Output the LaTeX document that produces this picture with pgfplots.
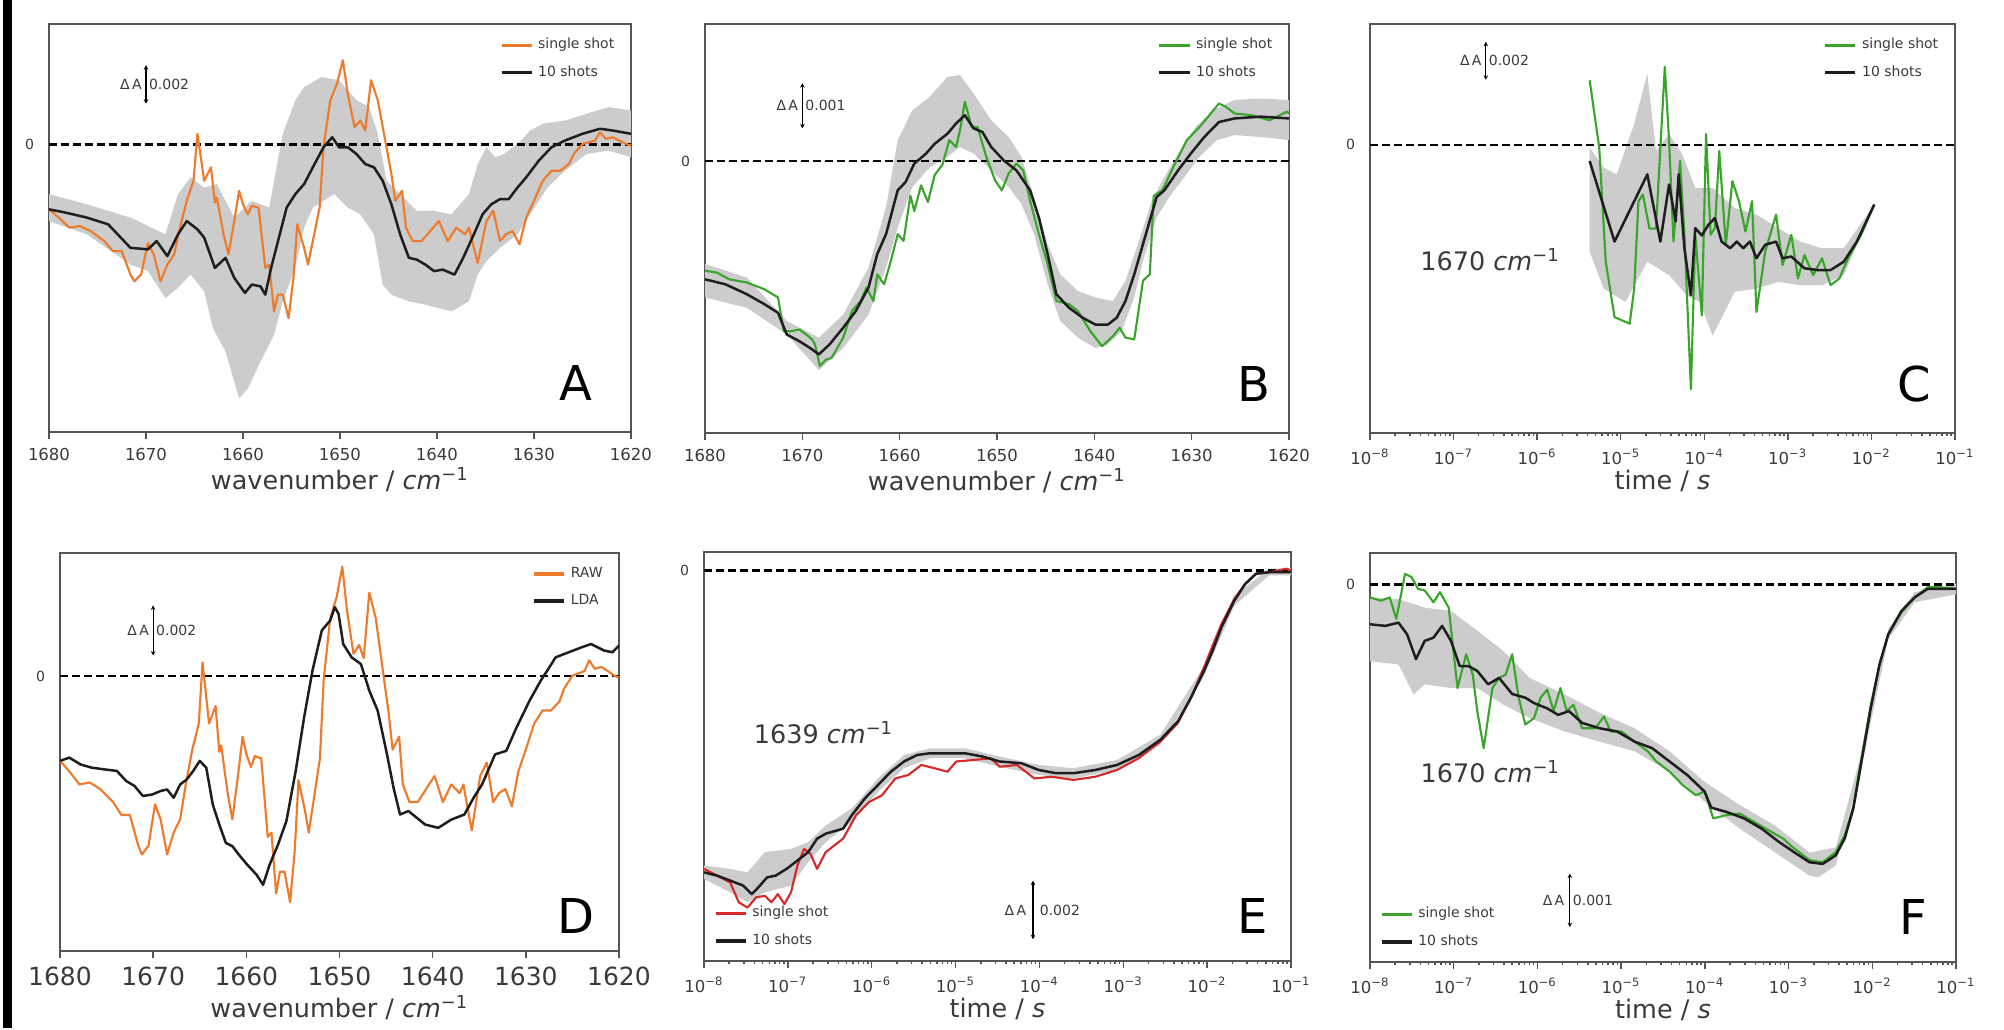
\documentclass[border=0pt]{standalone}
\usepackage{fontspec}
\setmainfont{DejaVu Sans}
\usepackage{pgfplots}
\pgfplotsset{compat=1.18}
\usepgfplotslibrary{fillbetween}
\usetikzlibrary{arrows.meta}

\definecolor{shotorange}{HTML}{EE7A2C}
\definecolor{shotgreen}{HTML}{3AA52B}
\definecolor{shotred}{HTML}{D42A2A}
\definecolor{avgblack}{HTML}{1E1E1E}
\definecolor{bandgray}{HTML}{CCCCCC}
\definecolor{framegray}{HTML}{555555}
\definecolor{labelgray}{HTML}{3A3A3A}

\newcommand\tickfont{\fontsize{6.6}{7.6}\selectfont}
\newcommand\bigtickfont{\fontsize{10}{11.5}\selectfont}
\newcommand\labfont{\fontsize{10.2}{12}\selectfont}
\newcommand\tinyfont{\fontsize{5.6}{6.4}\selectfont}
\newcommand\letterfont{\fontsize{19.2}{22}\selectfont}
\newcommand\wnlabel{wavenumber / \textit{cm}\textsuperscript{−1}}
\newcommand\dA{Δ\,A}

\tikzset{
  zero/.style={black, line width=0.9pt, dash pattern=on 3.2pt off 1.6pt},
  sbar/.style={black, line width=0.45pt, {Stealth[length=1.8pt,width=1.8pt]}-{Stealth[length=1.8pt,width=1.8pt]}},
  avg/.style={avgblack, line width=1pt},
  single/.style={#1, line width=0.85pt},
}

\pgfplotsset{
  panel/.style={
    scale only axis,
    axis line style={framegray, line width=0.8pt},
    tick style={framegray, line width=0.6pt},
    xtick pos=bottom, ytick pos=left,
    tick align=outside,
    major tick length=2.8pt, minor tick length=1.2pt,
    ytick={0}, ytick style={draw=none},
    yticklabel style={font=\tinyfont, text=labelgray, inner sep=0pt, xshift=-3pt},
    xticklabel style={font=\tickfont, text=labelgray},
    /pgf/number format/1000 sep={},
    /pgf/number format/assume math mode=true,
    xlabel style={font=\labfont, text=labelgray, at={(axis description cs:0.5,0)}, anchor=center, yshift=-19.2pt},
    legend style={draw=none, fill=none, font=\tinyfont, text=labelgray, row sep=1.2pt, inner sep=1pt},
    legend cell align=left,
    legend image code/.code={\draw[##1, line width=1.3pt] (0pt,0pt) -- (12pt,0pt);},
    every axis plot/.append style={line join=round},
  },
  wavenum/.style={panel, x dir=reverse, xmin=1620, xmax=1680,
    xtick={1620,1630,...,1680}, xlabel={\wnlabel}},
  logtime/.style={panel, xmin=1e-8, xmax=1e-1,
    xtick={1e-8,1e-7,1e-6,1e-5,1e-4,1e-3,1e-2,1e-1},
    xticklabels={10\textsuperscript{−8},10\textsuperscript{−7},10\textsuperscript{−6},10\textsuperscript{−5},10\textsuperscript{−4},10\textsuperscript{−3},10\textsuperscript{−2},10\textsuperscript{−1}},
    xlabel={time / \textit{s}}},
  toplegend/.style={legend style={at={(rel axis cs:0.985,0.985)}, anchor=north east}},
  botlegend/.style={legend style={at={(rel axis cs:0.012,0.012)}, anchor=south west}},
}

% A and D share the single-shot spectrum
\newcommand\rawspectrum{(1680.0,-3.36)(1679.0,-3.79)(1677.9,-4.31)(1676.8,-4.23)(1675.7,-4.49)(1674.3,-5.01)(1673.4,-5.53)(1672.5,-5.53)(1671.6,-6.75)(1671.2,-7.10)(1670.5,-6.75)(1669.8,-5.10)(1669.2,-5.70)(1668.5,-7.10)(1667.8,-6.23)(1667.1,-5.70)(1666.5,-4.31)(1665.8,-2.92)(1665.1,-1.88)(1664.7,0.56)(1664.0,-1.88)(1663.3,-1.18)(1662.9,-3.01)(1662.7,-2.75)(1662.0,-4.66)(1661.5,-5.70)(1660.9,-3.97)(1660.4,-2.40)(1660.0,-3.10)(1659.5,-3.62)(1659.1,-3.18)(1658.4,-3.27)(1657.7,-6.40)(1657.3,-6.23)(1656.8,-8.66)(1656.4,-7.79)(1655.9,-7.79)(1655.3,-9.01)(1654.8,-6.92)(1654.4,-4.14)(1653.7,-5.36)(1653.3,-6.23)(1652.8,-5.01)(1652.1,-3.27)(1651.7,-0.14)(1651.0,2.30)(1650.3,3.17)(1649.7,4.38)(1649.2,2.64)(1648.5,0.90)(1647.9,1.25)(1647.4,0.73)(1646.8,3.34)(1646.1,2.30)(1645.4,0.38)(1644.7,-1.53)(1644.3,-2.92)(1643.6,-2.40)(1643.2,-4.31)(1642.5,-5.01)(1641.6,-5.01)(1640.7,-4.49)(1639.8,-3.97)(1638.9,-5.01)(1638.0,-4.31)(1637.1,-4.66)(1636.7,-4.31)(1636.2,-5.36)(1635.8,-6.14)(1634.9,-3.97)(1634.2,-3.44)(1633.5,-5.01)(1632.9,-4.66)(1632.2,-4.49)(1631.5,-5.18)(1630.8,-3.79)(1630.0,-2.92)(1629.1,-1.88)(1628.2,-1.36)(1627.3,-1.36)(1626.4,-1.01)(1625.9,-0.49)(1625.0,0.03)(1623.7,0.21)(1623.2,0.64)(1622.6,0.30)(1621.9,0.38)(1621.2,0.21)(1620.5,0.03)(1620.0,-0.05)}

\begin{document}
\begin{tikzpicture}
\path (0,0) rectangle (801.6pt,411.2pt);
\fill[black] (1.2pt,0) rectangle (4.8pt,411.2pt);

% ---------------- A ----------------
\begin{axis}[wavenum, toplegend, at={(19.6pt,238.4pt)}, anchor=south west,
  width=232.8pt, height=163.2pt, ymin=-14.92, ymax=6.26]
\addplot[name path=aup, draw=none, forget plot] coordinates {(1680.0,-2.57)(1676.1,-3.10)(1671.6,-3.79)(1668.0,-4.66)(1666.7,-2.57)(1665.4,-1.70)(1664.0,-2.23)(1662.7,-2.05)(1660.9,-3.79)(1659.1,-2.92)(1657.3,-3.27)(1655.9,0.56)(1655.5,1.08)(1654.6,2.30)(1653.7,2.99)(1651.9,3.51)(1650.1,3.34)(1648.3,2.30)(1647.0,1.95)(1646.1,0.56)(1645.2,-1.88)(1643.8,-2.57)(1642.1,-3.44)(1640.3,-3.44)(1638.5,-3.62)(1636.7,-2.57)(1635.8,-1.01)(1634.9,-0.14)(1634.0,-0.66)(1633.1,-0.49)(1631.3,0.21)(1630.4,0.73)(1629.1,1.08)(1626.8,1.25)(1624.6,1.60)(1622.3,1.95)(1620.0,1.77)};
\addplot[name path=alo, draw=none, forget plot] coordinates {(1680.0,-3.97)(1676.1,-4.66)(1671.6,-6.23)(1669.8,-6.57)(1668.0,-7.97)(1666.7,-7.44)(1665.4,-6.75)(1664.0,-7.62)(1663.1,-9.53)(1661.8,-10.75)(1660.4,-13.18)(1659.5,-12.66)(1658.2,-11.27)(1656.8,-9.88)(1655.9,-8.14)(1654.6,-6.40)(1653.7,-4.31)(1652.8,-3.27)(1651.7,-2.92)(1650.6,-2.57)(1649.2,-3.27)(1647.9,-3.62)(1646.5,-4.66)(1645.6,-7.27)(1644.7,-7.79)(1642.9,-8.14)(1641.2,-8.31)(1638.5,-8.66)(1636.7,-8.14)(1635.8,-6.75)(1634.9,-6.05)(1633.5,-5.36)(1631.7,-4.66)(1630.4,-3.62)(1628.6,-2.23)(1626.8,-1.36)(1624.6,-0.49)(1622.3,-0.31)(1620.0,-0.66)};
\addplot[bandgray, forget plot] fill between[of=aup and alo];
\draw[zero] (axis cs:1680,0) -- (axis cs:1620,0);
\addplot[single=shotorange] coordinates {\rawspectrum};
\addlegendentry{single shot}
\addplot[avg] coordinates {(1680.0,-3.36)(1678.3,-3.53)(1676.1,-3.79)(1673.9,-4.14)(1671.6,-5.36)(1669.8,-5.44)(1668.9,-5.01)(1667.8,-5.79)(1666.7,-4.66)(1665.8,-3.97)(1664.7,-4.40)(1664.0,-4.83)(1662.9,-6.40)(1661.8,-5.88)(1660.9,-6.92)(1659.8,-7.70)(1659.1,-7.27)(1658.2,-7.36)(1657.7,-7.79)(1657.1,-6.40)(1655.5,-3.27)(1654.6,-2.57)(1653.7,-2.05)(1652.8,-1.18)(1651.7,-0.14)(1650.8,0.38)(1650.1,-0.14)(1649.2,-0.14)(1648.3,-0.49)(1647.4,-1.01)(1646.5,-1.18)(1645.6,-1.88)(1644.7,-3.10)(1643.8,-4.66)(1642.9,-5.88)(1642.1,-5.97)(1641.2,-6.23)(1640.3,-6.57)(1639.4,-6.49)(1638.2,-6.75)(1637.3,-5.88)(1636.2,-4.66)(1635.3,-3.62)(1634.4,-3.10)(1633.5,-2.83)(1632.6,-2.83)(1631.7,-2.23)(1630.8,-1.70)(1629.5,-0.83)(1628.2,-0.14)(1626.8,0.21)(1625.0,0.56)(1623.2,0.82)(1621.9,0.73)(1620.0,0.56)};
\addlegendentry{10 shots}
\draw[sbar] (axis cs:1670,2.12) -- (axis cs:1670,4.12)
  node[midway, left, font=\tinyfont, text=labelgray, inner sep=1.5pt] {\dA}
  node[midway, right, font=\tinyfont, text=labelgray, inner sep=1pt] {0.002};
\node[font=\letterfont] at (rel axis cs:0.905,0.12) {A};
\end{axis}

% ---------------- B ----------------
\begin{axis}[wavenum, toplegend, at={(282pt,238pt)}, anchor=south west,
  width=233.6pt, height=163.6pt, ymin=-6.01, ymax=3.04]
\addplot[name path=bup, draw=none, forget plot] coordinates {(1680.0,-2.27)(1675.7,-2.57)(1671.6,-3.53)(1668.3,-3.90)(1665.8,-3.39)(1663.2,-2.35)(1661.4,-1.01)(1660.2,0.47)(1658.7,1.13)(1656.9,1.43)(1655.1,1.87)(1653.8,1.91)(1652.4,1.50)(1650.6,0.91)(1648.8,0.54)(1647.5,0.10)(1646.2,-0.79)(1644.8,-1.83)(1643.5,-2.50)(1641.7,-2.87)(1639.9,-3.01)(1638.1,-3.09)(1636.8,-2.64)(1635.4,-1.76)(1634.1,-0.87)(1632.8,-0.35)(1631.4,0.17)(1629.6,0.76)(1627.8,1.13)(1625.6,1.36)(1622.9,1.39)(1620.0,1.36)};
\addplot[name path=blo, draw=none, forget plot] coordinates {(1680.0,-3.01)(1675.7,-3.24)(1671.6,-3.83)(1668.3,-4.62)(1665.8,-4.13)(1663.2,-3.39)(1661.4,-2.35)(1660.2,-1.46)(1658.7,-0.57)(1656.9,-0.13)(1655.1,0.10)(1653.8,0.32)(1652.4,0.17)(1650.6,-0.20)(1648.8,-0.57)(1647.5,-0.94)(1646.2,-1.61)(1644.8,-2.72)(1643.5,-3.53)(1641.7,-3.90)(1639.9,-4.13)(1638.6,-4.05)(1637.2,-3.76)(1635.9,-3.01)(1635.0,-2.20)(1633.6,-1.24)(1632.3,-0.79)(1631.0,-0.42)(1629.2,0.10)(1627.4,0.47)(1625.6,0.58)(1622.9,0.54)(1620.0,0.47)};
\addplot[bandgray, forget plot] fill between[of=bup and blo];
\draw[zero] (axis cs:1680,0) -- (axis cs:1620,0);
\addplot[single=shotgreen] coordinates {(1680.0,-2.42)(1678.8,-2.46)(1677.5,-2.61)(1675.7,-2.68)(1673.9,-2.83)(1672.5,-3.01)(1671.9,-3.76)(1671.2,-3.76)(1670.3,-3.72)(1669.6,-3.83)(1669.0,-3.94)(1668.7,-4.05)(1668.2,-4.53)(1667.6,-4.39)(1667.0,-4.35)(1665.8,-3.90)(1664.9,-3.31)(1664.0,-3.09)(1663.4,-2.79)(1662.7,-3.09)(1662.3,-2.50)(1661.6,-2.72)(1660.9,-2.20)(1660.2,-1.61)(1659.6,-1.76)(1658.9,-0.76)(1658.5,-1.10)(1657.8,-0.53)(1657.1,-0.90)(1656.4,-0.30)(1655.6,-0.07)(1654.9,0.47)(1654.2,0.32)(1653.8,0.69)(1653.3,1.32)(1652.6,0.76)(1652.0,0.76)(1651.1,0.10)(1650.2,-0.42)(1649.5,-0.64)(1648.8,-0.27)(1648.0,-0.05)(1647.3,-0.20)(1646.6,-0.87)(1645.7,-1.61)(1644.8,-2.27)(1643.9,-3.09)(1642.6,-3.16)(1641.7,-3.31)(1640.4,-3.76)(1639.2,-4.09)(1638.1,-3.87)(1637.4,-3.68)(1636.8,-3.90)(1635.9,-3.94)(1635.0,-2.64)(1634.3,-2.50)(1633.9,-0.76)(1633.0,-0.64)(1631.9,-0.13)(1630.5,0.47)(1629.2,0.76)(1628.3,0.99)(1627.2,1.28)(1626.5,1.21)(1625.6,1.06)(1623.8,1.02)(1622.0,0.91)(1620.2,1.10)(1620.0,1.06)};
\addlegendentry{single shot}
\addplot[avg] coordinates {(1680.0,-2.61)(1677.9,-2.72)(1675.7,-2.94)(1673.9,-3.16)(1672.5,-3.35)(1671.6,-3.83)(1670.3,-3.98)(1669.2,-4.13)(1668.3,-4.27)(1667.2,-4.05)(1665.8,-3.68)(1664.5,-3.31)(1663.2,-2.79)(1662.3,-2.05)(1661.4,-1.61)(1660.2,-0.64)(1659.4,-0.46)(1658.5,-0.05)(1657.3,0.17)(1656.4,0.39)(1655.1,0.61)(1654.2,0.84)(1653.3,1.02)(1652.4,0.73)(1651.5,0.65)(1650.6,0.32)(1649.3,0.02)(1648.0,-0.20)(1646.6,-0.64)(1645.7,-1.24)(1644.8,-2.05)(1643.9,-2.94)(1642.6,-3.24)(1641.2,-3.46)(1639.9,-3.61)(1638.6,-3.61)(1637.7,-3.46)(1636.8,-3.09)(1635.9,-2.50)(1635.0,-1.83)(1634.3,-1.31)(1633.6,-0.79)(1632.8,-0.64)(1631.4,-0.20)(1630.1,0.17)(1628.7,0.54)(1627.2,0.87)(1625.6,0.95)(1622.9,0.99)(1620.0,0.95)};
\addlegendentry{10 shots}
\draw[sbar] (axis cs:1670,0.73) -- (axis cs:1670,1.73)
  node[midway, left, font=\tinyfont, text=labelgray, inner sep=1.5pt] {\dA}
  node[midway, right, font=\tinyfont, text=labelgray, inner sep=1pt] {0.001};
\node[font=\letterfont] at (rel axis cs:0.94,0.12) {B};
\end{axis}

% ---------------- C ----------------
\begin{axis}[xmode=log, logtime, toplegend, at={(548pt,238pt)}, anchor=south west,
  width=234pt, height=163.6pt, ymin=-15.19, ymax=6.37]
\addplot[name path=cup, draw=none, forget plot] coordinates {(4.25e-6,-0.14)(6.24e-6,-1.20)(8.95e-6,-1.56)(1.45e-5,1.10)(2.08e-5,3.75)(2.64e-5,-0.32)(3.79e-5,0.57)(5.45e-5,-0.50)(7.80e-5,-2.27)(1.26e-4,-2.27)(2.31e-4,-3.33)(4.21e-4,-3.68)(7.67e-4,-4.39)(1.40e-3,-5.10)(2.56e-3,-5.45)(4.67e-3,-5.45)(1.08e-2,-3.15)};
\addplot[name path=clo, draw=none, forget plot] coordinates {(4.25e-6,-5.63)(6.24e-6,-7.58)(1.14e-5,-8.28)(2.08e-5,-6.16)(3.79e-5,-6.87)(6.14e-5,-7.93)(8.81e-5,-8.28)(1.26e-4,-10.05)(2.31e-4,-7.75)(4.21e-4,-7.58)(7.67e-4,-7.22)(1.40e-3,-7.40)(2.56e-3,-7.40)(4.67e-3,-6.87)(1.08e-2,-3.15)};
\addplot[bandgray, forget plot] fill between[of=cup and clo];
\draw[zero] (axis cs:1e-8,0) -- (axis cs:1e-1,0);
\addplot[single=shotgreen] coordinates {(4.25e-6,3.40)(5.53e-6,-0.14)(6.62e-6,-6.16)(8.43e-6,-9.08)(1.28e-5,-9.43)(1.45e-5,-7.58)(1.63e-5,-2.97)(1.84e-5,-2.62)(2.21e-5,-4.42)(2.64e-5,-4.42)(3.37e-5,4.11)(3.79e-5,0.21)(4.28e-5,-5.10)(5.13e-5,-0.85)(5.78e-5,-4.74)(6.92e-5,-12.88)(7.80e-5,-4.74)(9.35e-5,-8.99)(1.05e-4,0.57)(1.19e-4,-4.74)(1.34e-4,-4.39)(1.51e-4,-0.32)(1.81e-4,-5.27)(2.17e-4,-1.91)(2.60e-4,-2.97)(3.11e-4,-4.57)(3.73e-4,-2.97)(4.21e-4,-8.81)(5.35e-4,-5.63)(7.23e-4,-3.68)(8.65e-4,-6.34)(1.10e-3,-4.74)(1.32e-3,-7.04)(1.58e-3,-5.81)(2.01e-3,-6.87)(2.56e-3,-5.98)(3.25e-3,-7.40)(4.14e-3,-7.04)(5.26e-3,-5.98)(7.55e-3,-4.74)(1.08e-2,-3.15)};
\addlegendentry{single shot}
\addplot[avg] coordinates {(4.25e-6,-0.85)(8.43e-6,-5.10)(2.08e-5,-1.56)(2.98e-5,-5.10)(3.79e-5,-2.09)(4.54e-5,-4.04)(4.94e-5,-1.56)(5.78e-5,-5.45)(6.92e-5,-7.93)(7.80e-5,-4.39)(9.35e-5,-4.78)(1.12e-4,-4.21)(1.34e-4,-3.86)(1.61e-4,-5.10)(2.04e-4,-5.45)(2.45e-4,-5.10)(2.93e-4,-5.45)(3.51e-4,-5.10)(4.21e-4,-5.98)(5.35e-4,-5.27)(7.23e-4,-5.10)(8.65e-4,-5.98)(1.10e-3,-5.89)(1.58e-3,-6.51)(2.26e-3,-6.60)(3.25e-3,-6.60)(4.67e-3,-6.16)(6.68e-3,-5.10)(1.08e-2,-3.15)};
\addlegendentry{10 shots}
\draw[sbar] (axis cs:2.43e-7,3.43) -- (axis cs:2.43e-7,5.43)
  node[midway, left, font=\tinyfont, text=labelgray, inner sep=1.5pt] {\dA}
  node[midway, right, font=\tinyfont, text=labelgray, inner sep=1pt] {0.002};
\node[font=\labfont, text=labelgray] at (axis cs:2.74e-7,-6.07) {1670 \textit{cm}\textsuperscript{−1}};
\node[font=\letterfont] at (rel axis cs:0.93,0.12) {C};
\end{axis}

% ---------------- D ----------------
\begin{axis}[wavenum, toplegend, at={(24pt,30.8pt)}, anchor=south west,
  width=223.6pt, height=159.2pt, ymin=-10.95, ymax=4.92,
  xticklabel style={font=\bigtickfont},
  xlabel style={yshift=-3.6pt}]
\draw[zero] (axis cs:1680,0) -- (axis cs:1620,0);
\addplot[single=shotorange] coordinates {\rawspectrum};
\addlegendentry{RAW}
\addplot[avg] coordinates {(1680.0,-3.37)(1679.0,-3.24)(1677.8,-3.51)(1676.6,-3.64)(1675.2,-3.71)(1673.9,-3.77)(1672.9,-4.17)(1672.0,-4.37)(1671.1,-4.77)(1670.1,-4.71)(1669.2,-4.57)(1668.5,-4.51)(1667.8,-4.84)(1667.1,-4.31)(1666.4,-4.11)(1665.7,-3.77)(1665.0,-3.37)(1664.3,-3.64)(1663.6,-5.11)(1662.9,-5.91)(1662.2,-6.64)(1661.5,-6.77)(1660.8,-7.11)(1659.9,-7.51)(1658.9,-7.91)(1658.2,-8.31)(1657.5,-7.51)(1656.6,-6.71)(1655.7,-5.77)(1654.7,-3.77)(1653.8,-1.64)(1652.9,0.23)(1651.9,1.83)(1651.0,2.23)(1650.5,2.76)(1650.1,2.49)(1649.6,1.29)(1648.7,0.76)(1647.7,0.49)(1646.8,-0.57)(1645.9,-1.37)(1644.9,-3.11)(1644.2,-4.44)(1643.5,-5.51)(1642.6,-5.37)(1641.7,-5.64)(1640.8,-5.91)(1639.4,-6.04)(1638.0,-5.71)(1636.6,-5.51)(1635.6,-4.84)(1634.7,-4.31)(1633.3,-3.11)(1632.1,-2.97)(1631.0,-2.04)(1629.6,-0.97)(1628.4,-0.17)(1627.7,0.23)(1626.8,0.76)(1625.4,0.96)(1624.0,1.16)(1623.0,1.29)(1621.6,1.03)(1620.7,0.96)(1620.0,1.23)};
\addlegendentry{LDA}
\draw[sbar] (axis cs:1670,0.83) -- (axis cs:1670,2.83)
  node[midway, left, font=\tinyfont, text=labelgray, inner sep=1.5pt] {\dA}
  node[midway, right, font=\tinyfont, text=labelgray, inner sep=1pt] {0.002};
\node[font=\letterfont] at (rel axis cs:0.923,0.088) {D};
\end{axis}

% ---------------- E ----------------
\begin{axis}[xmode=log, logtime, botlegend, at={(281.6pt,26.8pt)}, anchor=south west,
  width=234.8pt, height=163.6pt, ymin=-13.31, ymax=0.63]
\addplot[name path=eup, draw=none, forget plot] coordinates {(1e-8,-10.06)(2.05e-8,-10.17)(3.30e-8,-10.29)(5.32e-8,-9.60)(1.09e-7,-9.49)(1.75e-7,-9.26)(2.83e-7,-8.69)(5.79e-7,-8.11)(1.19e-6,-7.09)(2.43e-6,-6.29)(4.97e-6,-6.06)(1.29e-5,-6.06)(3.35e-5,-6.34)(9.82e-5,-6.63)(2.55e-4,-6.74)(8.41e-4,-6.46)(2.77e-3,-5.60)(9.16e-3,-3.26)(2.11e-2,-0.86)(5.48e-2,0.06)(1e-1,0.06)};
\addplot[name path=elo, draw=none, forget plot] coordinates {(1e-8,-10.51)(2.05e-8,-10.97)(3.30e-8,-11.31)(5.32e-8,-10.97)(1.09e-7,-10.74)(1.75e-7,-9.94)(2.83e-7,-9.26)(5.79e-7,-8.57)(1.19e-6,-7.54)(2.43e-6,-6.74)(4.97e-6,-6.40)(1.29e-5,-6.40)(3.35e-5,-6.69)(9.82e-5,-6.97)(2.55e-4,-7.09)(8.41e-4,-6.80)(2.77e-3,-5.94)(9.16e-3,-3.60)(2.11e-2,-1.20)(5.48e-2,-0.17)(1e-1,-0.17)};
\addplot[bandgray, forget plot] fill between[of=eup and elo];
\draw[zero] (axis cs:1e-8,0) -- (axis cs:1e-1,0);
\addplot[single=shotred] coordinates {(1e-8,-10.17)(1.43e-8,-10.40)(2.05e-8,-10.63)(2.60e-8,-11.31)(3.30e-8,-11.49)(4.19e-8,-11.14)(5.32e-8,-11.09)(6.37e-8,-11.31)(7.60e-8,-11.03)(9.10e-8,-11.37)(1.09e-7,-10.97)(1.30e-7,-10.06)(1.56e-7,-9.49)(1.86e-7,-9.66)(2.23e-7,-10.17)(2.83e-7,-9.60)(4.56e-7,-9.14)(6.52e-7,-8.34)(9.33e-7,-7.89)(1.33e-6,-7.66)(1.91e-6,-7.09)(2.73e-6,-6.97)(3.91e-6,-6.63)(5.60e-6,-6.74)(8.00e-6,-6.86)(1.02e-5,-6.51)(1.64e-5,-6.46)(2.64e-5,-6.40)(3.35e-5,-6.69)(5.41e-5,-6.63)(8.71e-5,-7.09)(1.40e-4,-7.03)(2.55e-4,-7.14)(4.64e-4,-7.03)(8.41e-4,-6.80)(1.53e-3,-6.40)(2.77e-3,-5.83)(4.48e-3,-5.20)(6.40e-3,-4.34)(9.16e-3,-3.31)(1.16e-2,-2.57)(1.48e-2,-1.83)(2.11e-2,-0.97)(2.84e-2,-0.46)(3.84e-2,-0.11)(5.48e-2,-0.06)(8.85e-2,0.06)(1e-1,0)};
\addlegendentry{single shot}
\addplot[avg] coordinates {(1e-8,-10.29)(1.43e-8,-10.40)(2.05e-8,-10.57)(2.93e-8,-10.74)(3.72e-8,-11.03)(4.45e-8,-10.80)(5.65e-8,-10.46)(7.16e-8,-10.40)(9.66e-8,-10.17)(1.23e-7,-9.94)(1.75e-7,-9.60)(2.23e-7,-9.14)(2.83e-7,-8.97)(4.56e-7,-8.80)(5.79e-7,-8.34)(8.28e-7,-7.77)(1.19e-6,-7.31)(1.69e-6,-6.86)(2.43e-6,-6.51)(3.47e-6,-6.29)(4.97e-6,-6.23)(8.00e-6,-6.23)(1.29e-5,-6.23)(2.08e-5,-6.34)(3.35e-5,-6.51)(6.08e-5,-6.57)(9.82e-5,-6.80)(1.58e-4,-6.91)(2.55e-4,-6.91)(4.64e-4,-6.80)(8.41e-4,-6.63)(1.53e-3,-6.29)(2.77e-3,-5.77)(4.48e-3,-5.14)(6.40e-3,-4.34)(9.16e-3,-3.43)(1.16e-2,-2.74)(1.48e-2,-1.94)(2.11e-2,-1.03)(2.84e-2,-0.46)(3.84e-2,-0.11)(5.48e-2,-0.06)(1e-1,-0.06)};
\addlegendentry{10 shots}
\draw[sbar] (axis cs:8.39e-5,-12.57) -- (axis cs:8.39e-5,-10.57)
  node[midway, left, font=\tinyfont, text=labelgray, inner sep=2.5pt] {\dA}
  node[midway, right, font=\tinyfont, text=labelgray, inner sep=2.5pt] {0.002};
\node[font=\labfont, text=labelgray] at (axis cs:2.67e-7,-5.54) {1639 \textit{cm}\textsuperscript{−1}};
\node[font=\letterfont] at (rel axis cs:0.934,0.11) {E};
\end{axis}

% ---------------- F ----------------
\begin{axis}[xmode=log, logtime, botlegend, at={(548pt,26.4pt)}, anchor=south west,
  width=234.4pt, height=163.6pt, ymin=-7.04, ymax=0.59]
\addplot[name path=fup, draw=none, forget plot] coordinates {(1e-8,-0.24)(2.19e-8,-0.27)(4.50e-8,-0.43)(9.27e-8,-0.49)(1.91e-7,-0.86)(3.93e-7,-1.24)(8.07e-7,-1.74)(2.11e-6,-2.05)(5.53e-6,-2.39)(1.45e-5,-2.68)(3.79e-5,-3.11)(9.93e-5,-3.68)(2.60e-4,-4.11)(6.81e-4,-4.49)(1.78e-3,-5.00)(3.66e-3,-4.90)(7.55e-3,-3.11)(1.55e-2,-0.83)(3.20e-2,-0.14)(1e-1,0.01)};
\addplot[name path=flo, draw=none, forget plot] coordinates {(1e-8,-1.43)(2.19e-8,-1.49)(3.32e-8,-2.05)(4.50e-8,-1.86)(9.27e-8,-1.93)(1.91e-7,-1.93)(3.93e-7,-2.24)(8.07e-7,-2.49)(2.11e-6,-2.74)(5.53e-6,-2.93)(1.45e-5,-3.11)(3.79e-5,-3.49)(9.93e-5,-4.05)(2.60e-4,-4.55)(6.81e-4,-4.99)(1.78e-3,-5.43)(2.26e-3,-5.46)(3.66e-3,-5.24)(7.55e-3,-3.36)(1.55e-2,-1.02)(3.20e-2,-0.33)(1e-1,-0.18)};
\addplot[bandgray, forget plot] fill between[of=fup and flo];
\draw[zero] (axis cs:1e-8,0) -- (axis cs:1e-1,0);
\addplot[single=shotgreen] coordinates {(1.00e-8,-0.24)(1.35e-8,-0.30)(1.72e-8,-0.24)(2.06e-8,-0.64)(2.62e-8,0.20)(3.13e-8,0.14)(3.76e-8,-0.08)(4.50e-8,-0.11)(5.73e-8,-0.33)(6.85e-8,-0.14)(8.71e-8,-0.43)(1.11e-7,-1.93)(1.41e-7,-1.30)(1.69e-7,-1.68)(1.91e-7,-2.36)(2.28e-7,-3.05)(2.90e-7,-1.93)(3.48e-7,-1.74)(4.17e-7,-1.68)(4.99e-7,-1.30)(5.97e-7,-2.11)(7.16e-7,-2.61)(9.10e-7,-2.49)(1.09e-6,-2.11)(1.31e-6,-1.96)(1.56e-6,-2.36)(1.88e-6,-1.93)(2.24e-6,-2.36)(2.69e-6,-2.24)(3.42e-6,-2.68)(4.91e-6,-2.68)(6.24e-6,-2.46)(7.48e-6,-2.74)(1.01e-5,-2.74)(1.45e-5,-2.93)(2.08e-5,-3.11)(2.64e-5,-3.30)(3.79e-5,-3.49)(5.45e-5,-3.74)(7.80e-5,-3.93)(9.93e-5,-3.86)(1.26e-4,-4.36)(1.81e-4,-4.30)(2.60e-4,-4.27)(4.21e-4,-4.46)(8.65e-4,-4.74)(1.10e-3,-4.89)(1.78e-3,-5.14)(2.56e-3,-5.18)(3.66e-3,-4.99)(4.67e-3,-4.68)(5.93e-3,-4.14)(7.55e-3,-3.17)(9.60e-3,-2.24)(1.22e-2,-1.49)(1.55e-2,-0.93)(2.23e-2,-0.52)(3.20e-2,-0.24)(4.58e-2,-0.05)(6.58e-2,-0.05)(1e-1,-0.08)};
\addlegendentry{single shot}
\addplot[avg] coordinates {(1.00e-8,-0.74)(1.52e-8,-0.77)(2.19e-8,-0.71)(2.78e-8,-0.93)(3.54e-8,-1.39)(4.50e-8,-1.05)(5.73e-8,-0.99)(7.28e-8,-0.77)(9.27e-8,-1.05)(1.18e-7,-1.52)(1.50e-7,-1.52)(1.91e-7,-1.61)(2.58e-7,-1.86)(3.48e-7,-1.74)(4.99e-7,-2.04)(7.16e-7,-2.11)(9.10e-7,-2.21)(1.31e-6,-2.31)(1.77e-6,-2.43)(2.38e-6,-2.36)(3.42e-6,-2.58)(5.53e-6,-2.68)(8.95e-6,-2.74)(1.45e-5,-2.93)(2.34e-5,-3.05)(3.79e-5,-3.30)(6.14e-5,-3.55)(9.93e-5,-3.86)(1.19e-4,-4.16)(1.81e-4,-4.24)(2.93e-4,-4.36)(4.74e-4,-4.55)(7.67e-4,-4.80)(1.24e-3,-5.02)(1.78e-3,-5.18)(2.56e-3,-5.21)(3.66e-3,-5.05)(4.67e-3,-4.74)(5.93e-3,-4.18)(7.55e-3,-3.24)(9.60e-3,-2.30)(1.22e-2,-1.49)(1.55e-2,-0.93)(2.23e-2,-0.49)(3.20e-2,-0.24)(4.58e-2,-0.08)(6.58e-2,-0.08)(1e-1,-0.08)};
\addlegendentry{10 shots}
\draw[sbar] (axis cs:2.44e-6,-6.39) -- (axis cs:2.44e-6,-5.39)
  node[midway, left, font=\tinyfont, text=labelgray, inner sep=2pt] {\dA}
  node[midway, right, font=\tinyfont, text=labelgray, inner sep=1pt] {0.001};
\node[font=\labfont, text=labelgray] at (axis cs:2.74e-7,-3.49) {1670 \textit{cm}\textsuperscript{−1}};
\node[font=\letterfont] at (rel axis cs:0.927,0.11) {F};
\end{axis}
\end{tikzpicture}
\end{document}
